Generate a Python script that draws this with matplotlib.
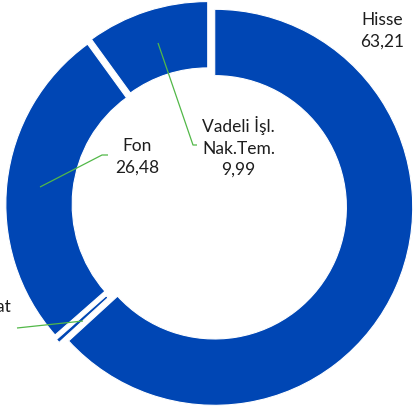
import matplotlib
matplotlib.use("Agg")
import matplotlib.pyplot as plt

# ---- data ----
categories = ["Hisse", "Mevduat", "Fon", "Vadeli İşl.\nNak.Tem."]
values = [63.21, 0.32, 26.48, 9.99]
value_labels = ["63,21", "0,32", "26,48", "9,99"]

W, H = 413, 412
CX, CY, R = 209.5, 205.0, 198.0   # pixel layout of the donut


def P(px, py):
    """pixel (from top-left) -> data coords where radius == 1"""
    return ((px - CX) / R, (CY - py) / R)


fig = plt.figure(figsize=(W / 100, H / 100), dpi=100)
ax = fig.add_axes([0, 0, 1, 1])

blue = "#0046B4"
ax.pie(values, radius=1.0, startangle=90, counterclock=False,
       explode=[5.7 / R] * len(values), colors=[blue] * len(values),
       wedgeprops=dict(width=0.335, edgecolor="white", linewidth=0.8))

ax.set_aspect("auto")
ax.set_xlim(P(0, 0)[0], P(W, 0)[0])
ax.set_ylim(P(0, H)[1], P(0, 0)[1])
ax.axis("off")

font = dict(family=["Lato", "DejaVu Sans"], fontsize=12.5, color="#1e1e1e",
            linespacing=1.4)

# labels
ax.text(*P(382, 31), f"{categories[0]}\n{value_labels[0]}", ha="center", va="center", **font)
ax.text(*P(238.5, 147), f"{categories[3]}\n{value_labels[3]}", ha="center", va="center", **font)
ax.text(*P(137, 157), f"{categories[2]}\n{value_labels[2]}", ha="center", va="center", **font)
ax.text(*P(11, 318), f"{categories[1]}\n{value_labels[1]}", ha="right", va="center",
        multialignment="center", **font)

# leader lines
green = "#52B848"
for pts in [[(158, 43), (193, 145), (197, 145)],
            [(40, 187), (102, 155), (108, 155)],
            [(17, 328), (83, 321)]]:
    xs, ys = zip(*[P(*p) for p in pts])
    ax.plot(xs, ys, color=green, lw=0.9, solid_capstyle="butt")

fig.savefig("out.png", dpi=100)
